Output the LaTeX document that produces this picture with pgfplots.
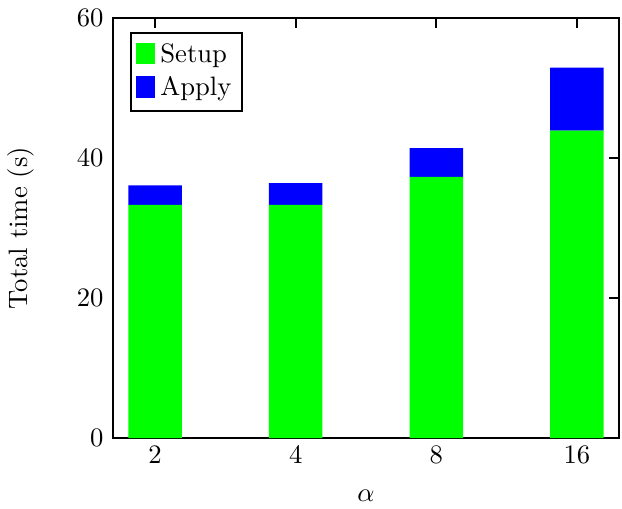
\documentclass[border=0pt]{standalone}
\usepackage{pgfplots}
\pgfplotsset{compat=1.18}
\definecolor{cgreen}{RGB}{0,255,0}
\definecolor{cblue}{RGB}{0,0,255}
\begin{document}
\begin{tikzpicture}
\begin{axis}[
  name=main,
  scale only axis,
  width=190pt, height=157.7pt,
  ybar stacked,
  bar width=0.38,
  xmin=-0.3, xmax=3.3,
  ymin=0, ymax=60,
  xtick={0,1,2,3},
  xticklabels={2,4,8,16},
  ytick={0,20,40,60},
  xtick pos=upper, ytick pos=upper,
  xticklabel pos=lower, yticklabel pos=lower,
  tick align=inside,
  major tick length=3.7pt,
  tick style={line width=0.7pt, black},
  axis line style={line width=0.7pt},
  xticklabel style={yshift=0.8pt},
  xlabel={$\alpha$},
  ylabel={Total time (s)},
  ylabel shift=9.3pt,
  xlabel shift=3pt,
  legend style={at={(0.034,0.967)}, anchor=north west, draw=black, line width=0.7pt, row sep=0pt, inner sep=2pt},
  legend cell align=left,
  legend image code/.code={\fill[#1] (0pt,-3.5pt) rectangle (7pt,4.5pt);},
]
\addplot[fill=cgreen, draw=none] coordinates {(0,33.3) (1,33.3) (2,37.3) (3,43.9)};
\addplot[fill=cblue, draw=none] coordinates {(0,2.8) (1,3.1) (2,4.1) (3,9.0)};
\legend{Setup, Apply}
\end{axis}
\pgfresetboundingbox
\path ([xshift=-42.4pt,yshift=-26.3pt]main.south west) rectangle ([xshift=1.1pt,yshift=6.76pt]main.north east);
\end{tikzpicture}
\end{document}
